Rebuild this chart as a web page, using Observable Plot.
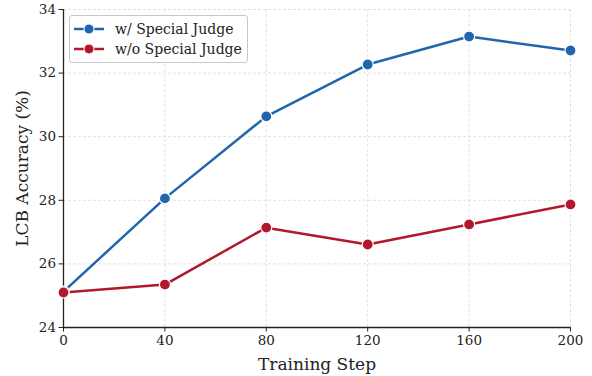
<!DOCTYPE html>
<html><head><meta charset="utf-8">
<script src="https://cdn.jsdelivr.net/npm/d3@7"></script>
<script src="https://cdn.jsdelivr.net/npm/@observablehq/plot@0.6"></script>
<style>
body{margin:0;background:#fff;}
#wrap{position:relative;width:592px;height:376px;font-family:"DejaVu Serif",serif;}
#legend{position:absolute;left:69px;top:15px;width:177px;height:46px;border:1px solid #c8c8c8;border-radius:3px;background:rgba(255,255,255,0.9);font-size:14px;color:#222;}
#legend .row{position:absolute;left:0;height:20px;display:flex;align-items:center;white-space:nowrap;}
#legend svg{margin-left:2px;margin-right:9px;}
</style></head>
<body><div id="wrap"></div>
<script>
const steps = [0, 40, 80, 120, 160, 200];
const withJudge = [25.13, 28.06, 30.64, 32.27, 33.15, 32.71];
const withoutJudge = [25.10, 25.35, 27.14, 26.61, 27.24, 27.87];
const seriesNames = ["w/ Special Judge", "w/o Special Judge"];
const seriesColors = ["#2166ac", "#b2182b"];
const xTicks = [0, 40, 80, 120, 160, 200];
const yTicks = [24, 26, 28, 30, 32, 34];

const data = [
  ...steps.map((s, i) => ({step: s, acc: withJudge[i], series: seriesNames[0]})),
  ...steps.map((s, i) => ({step: s, acc: withoutJudge[i], series: seriesNames[1]}))
];

const chart = Plot.plot({
  width: 592, height: 376,
  marginLeft: 63, marginRight: 22, marginTop: 9, marginBottom: 49,
  style: {fontFamily: "'DejaVu Serif', serif", fontSize: "13px", color: "#222", background: "#fff"},
  x: {domain: [0, 200], ticks: xTicks, label: null},
  y: {domain: [24, 34], ticks: yTicks, label: null},
  color: {domain: seriesNames, range: seriesColors},
  marks: [
    Plot.gridX(xTicks, {stroke: "#d9d9d9", strokeOpacity: 1, strokeDasharray: "3,2", strokeWidth: 0.8}),
    Plot.gridY(yTicks, {stroke: "#d9d9d9", strokeOpacity: 1, strokeDasharray: "3,2", strokeWidth: 0.8}),
    Plot.axisX(xTicks, {tickSize: 4.5, tickPadding: 3, fontSize: 13.5, label: "Training Step", labelAnchor: "center", labelOffset: 42, labelArrow: "none"}),
    Plot.axisY(yTicks, {tickSize: 4.5, tickPadding: 3, fontSize: 13.5, label: "LCB Accuracy (%)", labelAnchor: "center", labelOffset: 48, labelArrow: "none"}),
    Plot.ruleX([0], {stroke: "#222", strokeWidth: 1.3}),
    Plot.ruleY([24], {stroke: "#222", strokeWidth: 1.3}),
    Plot.line(data, {x: "step", y: "acc", z: "series", stroke: "series", strokeWidth: 2.5}),
    Plot.dot(data, {x: "step", y: "acc", fill: "series", stroke: "white", strokeWidth: 1.2, r: 5.5})
  ]
});
const wrap = document.getElementById("wrap");
wrap.appendChild(chart);
d3.select(chart).selectAll("g[aria-label='x-axis label'], g[aria-label='y-axis label']").attr("font-size", 17);

const legend = document.createElement("div");
legend.id = "legend";
seriesNames.forEach((name, i) => {
  const row = document.createElement("div");
  row.className = "row";
  row.style.top = (3 + i * 20) + "px";
  row.innerHTML = `<svg width="34" height="12"><line x1="2" x2="32" y1="6" y2="6" stroke="${seriesColors[i]}" stroke-width="2.5"/><circle cx="17" cy="6" r="5" fill="${seriesColors[i]}" stroke="white" stroke-width="1"/></svg><span>${name}</span>`;
  legend.appendChild(row);
});
wrap.appendChild(legend);
</script></body></html>
